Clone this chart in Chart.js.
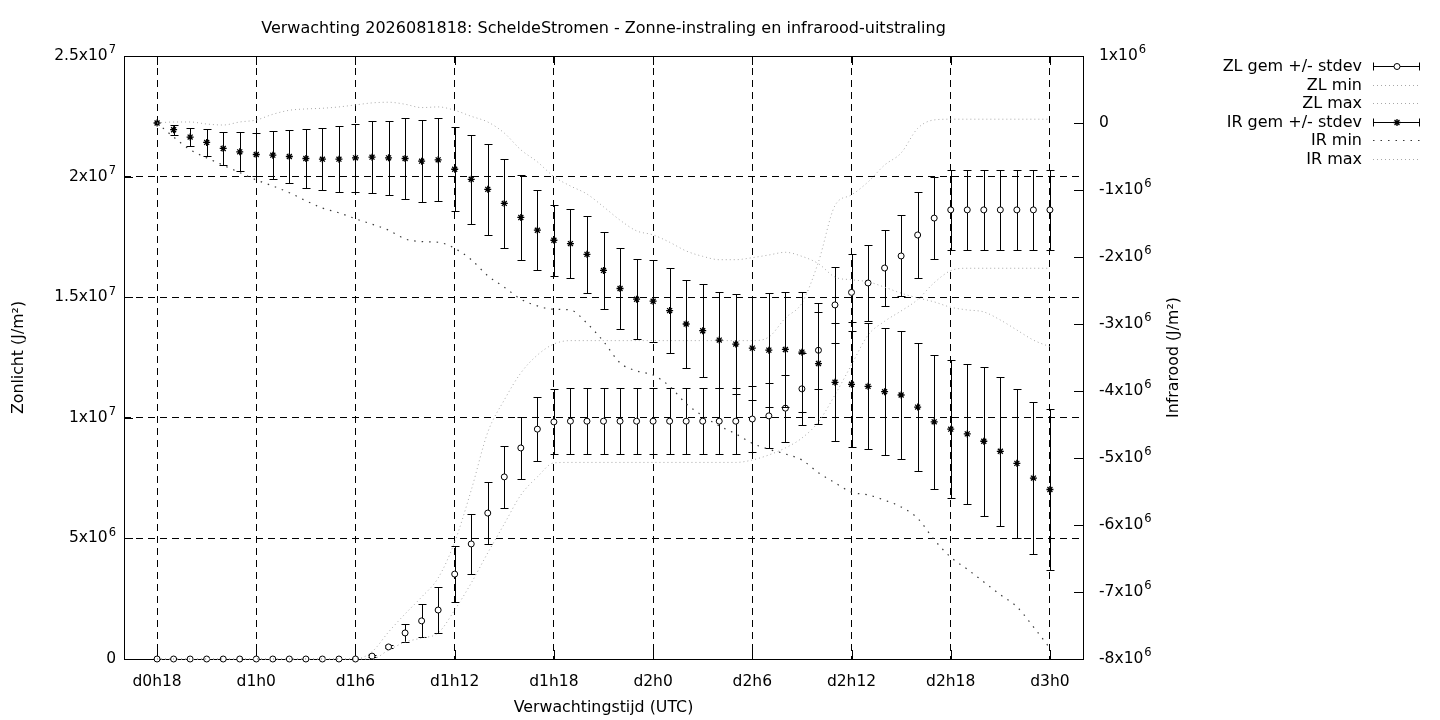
<!DOCTYPE html>
<html>
<head>
<meta charset="utf-8">
<title>Verwachting ScheldeStromen</title>
<script src="https://cdn.jsdelivr.net/npm/chart.js@4.4.1/dist/chart.umd.min.js"></script>
<style>
  html, body { margin: 0; padding: 0; background: #fff; }
  canvas { display: block; }
</style>
</head>
<body>
<canvas id="grafiek" width="1440" height="720"></canvas>
<script>
// uren na d0h18
const uren = [0, 1, 2, 3, 4, 5, 6, 7, 8, 9,
  10, 11, 12, 13, 14, 15, 16, 17, 18, 19,
  20, 21, 22, 23, 24, 25, 26, 27, 28, 29,
  30, 31, 32, 33, 34, 35, 36, 37, 38, 39,
  40, 41, 42, 43, 44, 45, 46, 47, 48, 49,
  50, 51, 52, 53, 54];

const tijdTicks = [0, 6, 12, 18, 24, 30, 36, 42, 48, 54];
const tijdLabels = ["d0h18", "d1h0", "d1h6", "d1h12", "d1h18", "d2h0", "d2h6", "d2h12", "d2h18", "d3h0"];

// "^" markeert de exponent (superscript)
const zlTicks = [0, 5e6, 1e7, 1.5e7, 2e7, 2.5e7];
const zlTickLabels = ["0", "5x10^6", "1x10^7", "1.5x10^7", "2x10^7", "2.5x10^7"];
const irTicks = [-8e6, -7e6, -6e6, -5e6, -4e6, -3e6, -2e6, -1e6, 0, 1e6];
const irTickLabels = ["-8x10^6", "-7x10^6", "-6x10^6", "-5x10^6", "-4x10^6", "-3x10^6", "-2x10^6", "-1x10^6", "0", "1x10^6"];

// zonlicht (J/m2)
const zlGem = [0, 0, 0, 0, 0, 0, 0, 0, 0, 0,
  0, 0, 0, 1.2e5, 5.0e5, 1.08e6, 1.58e6, 2.03e6, 3.52e6, 4.77e6,
  6.05e6, 7.55e6, 8.75e6, 9.53e6, 9.83e6, 9.86e6, 9.86e6, 9.86e6, 9.86e6, 9.86e6,
  9.86e6, 9.86e6, 9.86e6, 9.86e6, 9.86e6, 9.86e6, 9.95e6, 1.008e7, 1.04e7, 1.12e7,
  1.28e7, 1.468e7, 1.52e7, 1.559e7, 1.621e7, 1.671e7, 1.758e7, 1.828e7, 1.862e7, 1.862e7,
  1.862e7, 1.862e7, 1.862e7, 1.862e7, 1.862e7];
const zlStdev = [0, 0, 0, 0, 0, 0, 0, 0, 0, 0,
  0, 0, 0, 0.03e6, 0.06e6, 0.37e6, 0.68e6, 0.95e6, 1.16e6, 1.24e6,
  1.3e6, 1.27e6, 1.27e6, 1.33e6, 1.35e6, 1.37e6, 1.37e6, 1.37e6, 1.37e6, 1.37e6,
  1.37e6, 1.37e6, 1.37e6, 1.37e6, 1.37e6, 1.37e6, 1.35e6, 1.35e6, 1.39e6, 1.5e6,
  1.6e6, 1.58e6, 1.6e6, 1.58e6, 1.58e6, 1.68e6, 1.78e6, 1.7e6, 1.66e6, 1.66e6,
  1.66e6, 1.66e6, 1.66e6, 1.66e6, 1.66e6];
const zlMin = [0, 0, 0, 0, 0, 0, 0, 0, 0, 0,
  0, 0, 0, 0, 0.37e6, 0.7e6, 0.87e6, 1.08e6, 2.03e6, 3.15e6,
  4.4e6, 5.6e6, 6.8e6, 7.55e6, 8.13e6, 8.15e6, 8.15e6, 8.15e6, 8.15e6, 8.15e6,
  8.15e6, 8.15e6, 8.15e6, 8.15e6, 8.15e6, 8.15e6, 8.25e6, 8.46e6, 8.75e6, 9.16e6,
  9.83e6, 1.095e7, 1.22e7, 1.343e7, 1.4e7, 1.443e7, 1.49e7, 1.56e7, 1.61e7, 1.62e7,
  1.62e7, 1.62e7, 1.62e7, 1.62e7, 1.62e7];
const zlMax = [0, 0, 0, 0, 0, 0, 0, 0, 0, 0,
  0, 0, 0, 0.3e6, 1.12e6, 1.87e6, 2.57e6, 3.36e6, 4.85e6, 7.0e6,
  9.4e6, 1.074e7, 1.186e7, 1.26e7, 1.306e7, 1.32e7, 1.32e7, 1.32e7, 1.32e7, 1.32e7,
  1.32e7, 1.32e7, 1.32e7, 1.32e7, 1.32e7, 1.32e7, 1.32e7, 1.335e7, 1.414e7, 1.476e7,
  1.646e7, 1.88e7, 1.924e7, 1.978e7, 2.048e7, 2.098e7, 2.2e7, 2.235e7, 2.238e7, 2.238e7,
  2.238e7, 2.238e7, 2.238e7, 2.238e7, 2.238e7];

// infrarood (J/m2)
const irGem = [0, -0.1e6, -0.21e6, -0.29e6, -0.38e6, -0.43e6, -0.47e6, -0.48e6, -0.5e6, -0.53e6,
  -0.54e6, -0.54e6, -0.52e6, -0.51e6, -0.52e6, -0.53e6, -0.57e6, -0.55e6, -0.69e6, -0.84e6,
  -0.99e6, -1.2e6, -1.41e6, -1.6e6, -1.75e6, -1.8e6, -1.96e6, -2.2e6, -2.47e6, -2.63e6,
  -2.66e6, -2.8e6, -3.0e6, -3.1e6, -3.24e6, -3.3e6, -3.36e6, -3.39e6, -3.38e6, -3.42e6,
  -3.59e6, -3.87e6, -3.9e6, -3.93e6, -4.01e6, -4.06e6, -4.24e6, -4.46e6, -4.57e6, -4.64e6,
  -4.75e6, -4.9e6, -5.08e6, -5.3e6, -5.47e6];
const irStdev = [0, 0.075e6, 0.14e6, 0.2e6, 0.25e6, 0.29e6, 0.32e6, 0.36e6, 0.4e6, 0.44e6,
  0.46e6, 0.49e6, 0.51e6, 0.54e6, 0.55e6, 0.6e6, 0.61e6, 0.62e6, 0.63e6, 0.66e6,
  0.68e6, 0.67e6, 0.64e6, 0.6e6, 0.53e6, 0.52e6, 0.57e6, 0.58e6, 0.61e6, 0.6e6,
  0.61e6, 0.64e6, 0.65e6, 0.69e6, 0.72e6, 0.75e6, 0.77e6, 0.85e6, 0.86e6, 0.9e6,
  0.9e6, 0.88e6, 0.93e6, 0.94e6, 0.95e6, 0.95e6, 0.96e6, 1.0e6, 1.03e6, 1.04e6,
  1.11e6, 1.11e6, 1.11e6, 1.14e6, 1.2e6];
const irMin = [0, -0.21e6, -0.4e6, -0.52e6, -0.63e6, -0.74e6, -0.85e6, -0.94e6, -1.04e6, -1.16e6,
  -1.27e6, -1.34e6, -1.43e6, -1.51e6, -1.6e6, -1.73e6, -1.77e6, -1.78e6, -1.87e6, -2.04e6,
  -2.28e6, -2.45e6, -2.63e6, -2.73e6, -2.78e6, -2.79e6, -2.99e6, -3.26e6, -3.58e6, -3.7e6,
  -3.76e6, -3.93e6, -4.19e6, -4.37e6, -4.52e6, -4.64e6, -4.78e6, -4.87e6, -4.94e6, -5.03e6,
  -5.22e6, -5.37e6, -5.51e6, -5.55e6, -5.63e6, -5.73e6, -5.9e6, -6.22e6, -6.48e6, -6.66e6,
  -6.85e6, -7.04e6, -7.22e6, -7.52e6, -7.84e6];
const irMax = [0, 0.015e6, 0.015e6, -0.015e6, -0.03e6, 0.015e6, 0.045e6, 0.13e6, 0.19e6, 0.21e6,
  0.22e6, 0.24e6, 0.27e6, 0.30e6, 0.31e6, 0.28e6, 0.23e6, 0.24e6, 0.19e6, 0.1e6,
  0.015e6, -0.15e6, -0.4e6, -0.58e6, -0.8e6, -0.94e6, -1.06e6, -1.25e6, -1.45e6, -1.61e6,
  -1.67e6, -1.78e6, -1.91e6, -1.99e6, -2.04e6, -2.04e6, -2.01e6, -1.97e6, -1.93e6, -1.99e6,
  -2.1e6, -2.3e6, -2.34e6, -2.37e6, -2.45e6, -2.54e6, -2.61e6, -2.67e6, -2.75e6, -2.79e6,
  -2.82e6, -2.94e6, -3.09e6, -3.24e6, -3.34e6];

const punten = (reeks) => uren.map((u, i) => ({ x: u, y: reeks[i] }));

const tickFont = { family: "DejaVu Sans", size: 15.5 };
const titelFont = { family: "DejaVu Sans", size: 15.8 };
Chart.defaults.font.family = "DejaVu Sans";
Chart.defaults.font.size = 15.5;
Chart.defaults.color = "#000";

const grijsStip = "#a8a8a8";

// tekent de foutbalken (gem +/- stdev) voor de dataset zelf getekend wordt
const foutbalken = {
  id: "foutbalken",
  beforeDatasetDraw(chart, args) {
    const ds = chart.data.datasets[args.index];
    if (!ds.stdev) return;
    const ctx = chart.ctx;
    const xs = chart.scales.x;
    const ys = chart.scales[ds.yAxisID];
    ctx.save();
    ctx.strokeStyle = "#000";
    ctx.lineWidth = 1;
    ds.data.forEach((p, i) => {
      const s = ds.stdev[i];
      if (!s) return;
      const x = Math.round(xs.getPixelForValue(p.x)) + 0.5;
      const y1 = Math.round(ys.getPixelForValue(p.y - s)) + 0.5;
      const y2 = Math.round(ys.getPixelForValue(p.y + s)) + 0.5;
      ctx.beginPath();
      ctx.moveTo(x, y1);
      ctx.lineTo(x, y2);
      ctx.moveTo(x - 4, y1);
      ctx.lineTo(x + 4, y1);
      ctx.moveTo(x - 4, y2);
      ctx.lineTo(x + 4, y2);
      ctx.stroke();
    });
    ctx.restore();
  },
};

function tekenSter(ctx, x, y, r) {
  const d = r * 0.7071;
  ctx.beginPath();
  ctx.moveTo(x - r, y); ctx.lineTo(x + r, y);
  ctx.moveTo(x, y - r); ctx.lineTo(x, y + r);
  ctx.moveTo(x - d, y - d); ctx.lineTo(x + d, y + d);
  ctx.moveTo(x - d, y + d); ctx.lineTo(x + d, y - d);
  ctx.stroke();
}

// label als "1x10^6": basis plus verhoogde exponent
function tekenMacht(ctx, tekst, x, y, uitlijning) {
  const [basis, macht] = tekst.split("^");
  ctx.font = "15.5px 'DejaVu Sans'";
  const wb = ctx.measureText(basis).width;
  ctx.font = "11.5px 'DejaVu Sans'";
  const wm = macht ? ctx.measureText(macht).width + 1 : 0;
  const start = uitlijning === "right" ? x - wb - wm : x;
  ctx.textAlign = "left";
  ctx.textBaseline = "middle";
  ctx.font = "15.5px 'DejaVu Sans'";
  ctx.fillText(basis, start, y);
  if (macht) {
    ctx.font = "11.5px 'DejaVu Sans'";
    ctx.fillText(macht, start + wb + 1, y - 5.5);
  }
}

// rand, tickjes naar binnen, y-labels, rechter as-titel en legenda (gnuplot stijl)
const kader = {
  id: "kader",
  beforeDatasetsDraw(chart) {
    const ctx = chart.ctx;
    const a = chart.chartArea;
    const { x, y, y2 } = chart.scales;
    ctx.save();
    ctx.strokeStyle = "#000";
    ctx.lineWidth = 1;
    ctx.setLineDash([]);
    ctx.strokeRect(Math.round(a.left) + 0.5, Math.round(a.top) + 0.5,
      Math.round(a.right - a.left), Math.round(a.bottom - a.top));

    ctx.beginPath();
    tijdTicks.forEach((t) => {
      const px = Math.round(x.getPixelForValue(t)) + 0.5;
      ctx.moveTo(px, a.bottom); ctx.lineTo(px, a.bottom - 9);
      ctx.moveTo(px, a.top); ctx.lineTo(px, a.top + 9);
    });
    zlTicks.forEach((t) => {
      const py = Math.round(y.getPixelForValue(t)) + 0.5;
      ctx.moveTo(a.left, py); ctx.lineTo(a.left + 9, py);
    });
    irTicks.forEach((t) => {
      const py = Math.round(y2.getPixelForValue(t)) + 0.5;
      ctx.moveTo(a.right, py); ctx.lineTo(a.right - 9, py);
    });
    ctx.stroke();
    ctx.restore();
  },
  afterDraw(chart) {
    const ctx = chart.ctx;
    const a = chart.chartArea;
    const { y, y2 } = chart.scales;
    ctx.save();
    ctx.fillStyle = "#000";

    zlTicks.forEach((t, i) => {
      tekenMacht(ctx, zlTickLabels[i], a.left - 8, y.getPixelForValue(t), "right");
    });
    irTicks.forEach((t, i) => {
      tekenMacht(ctx, irTickLabels[i], a.right + 16, y2.getPixelForValue(t), "left");
    });

    // titel rechter as, van onder naar boven
    ctx.font = "15.8px 'DejaVu Sans'";
    ctx.save();
    ctx.translate(1174, (a.top + a.bottom) / 2);
    ctx.rotate(-Math.PI / 2);
    ctx.textAlign = "center";
    ctx.textBaseline = "middle";
    ctx.fillText("Infrarood (J/m²)", 0, 0);
    ctx.restore();

    // legenda
    ctx.font = "16px 'DejaVu Sans'";
    ctx.textAlign = "right";
    ctx.textBaseline = "middle";
    chart.data.datasets.forEach((ds, k) => {
      const ry = Math.round(66 + k * 18.6) + 0.5;
      ctx.fillStyle = "#000";
      ctx.fillText(ds.label, 1362, ry);
      const x0 = 1373, x1 = 1420, xm = 1397;
      if (ds.stdev) {
        ctx.strokeStyle = "#000";
        ctx.lineWidth = 1;
        ctx.setLineDash([]);
        ctx.beginPath();
        ctx.moveTo(x0, ry); ctx.lineTo(x1, ry);
        ctx.moveTo(x0 + 0.5, ry - 4); ctx.lineTo(x0 + 0.5, ry + 4);
        ctx.moveTo(x1 - 0.5, ry - 4); ctx.lineTo(x1 - 0.5, ry + 4);
        ctx.stroke();
        if (ds.pointStyle === "circle") {
          ctx.beginPath();
          ctx.arc(xm, ry, ds.pointRadius, 0, Math.PI * 2);
          ctx.fillStyle = "#fff";
          ctx.fill();
          ctx.stroke();
        } else {
          ctx.lineWidth = ds.pointBorderWidth;
          tekenSter(ctx, xm, ry, ds.pointRadius);
        }
      } else {
        ctx.strokeStyle = ds.borderColor;
        ctx.lineWidth = ds.borderWidth;
        ctx.setLineDash(ds.borderDash);
        ctx.beginPath();
        ctx.moveTo(x0, ry); ctx.lineTo(x1, ry);
        ctx.stroke();
      }
    });
    ctx.restore();
  },
};

const vasteTicks = (waarden) => (schaal) => {
  schaal.ticks = waarden.map((v) => ({ value: v }));
};

new Chart(document.getElementById("grafiek"), {
  type: "line",
  data: {
    datasets: [
      {
        label: "ZL gem +/- stdev",
        data: punten(zlGem),
        stdev: zlStdev,
        yAxisID: "y",
        showLine: false,
        clip: false,
        pointStyle: "circle",
        pointRadius: 3,
        pointBorderWidth: 1,
        pointBackgroundColor: "#fff",
        pointBorderColor: "#000",
        order: 6,
      },
      {
        label: "ZL min",
        data: punten(zlMin),
        yAxisID: "y",
        clip: 2,
        borderColor: grijsStip,
        borderWidth: 1,
        borderDash: [1, 3],
        pointRadius: 0,
        cubicInterpolationMode: "monotone",
        order: 5,
      },
      {
        label: "ZL max",
        data: punten(zlMax),
        yAxisID: "y",
        clip: 2,
        borderColor: grijsStip,
        borderWidth: 1,
        borderDash: [1, 3],
        pointRadius: 0,
        cubicInterpolationMode: "monotone",
        order: 4,
      },
      {
        label: "IR gem +/- stdev",
        data: punten(irGem),
        stdev: irStdev,
        yAxisID: "y2",
        showLine: false,
        clip: false,
        pointStyle: "star",
        pointRadius: 3.5,
        pointBorderWidth: 1.3,
        pointBorderColor: "#000",
        pointBackgroundColor: "#000",
        order: 3,
      },
      {
        label: "IR min",
        data: punten(irMin),
        yAxisID: "y2",
        borderColor: "#3a3a3a",
        borderWidth: 1.2,
        borderDash: [1.5, 6],
        pointRadius: 0,
        cubicInterpolationMode: "monotone",
        order: 2,
      },
      {
        label: "IR max",
        data: punten(irMax),
        yAxisID: "y2",
        borderColor: grijsStip,
        borderWidth: 1,
        borderDash: [1, 3],
        pointRadius: 0,
        cubicInterpolationMode: "monotone",
        order: 1,
      },
    ],
  },
  options: {
    responsive: false,
    animation: false,
    devicePixelRatio: 1,
    layout: { padding: { left: 0, right: 257, top: 0, bottom: 0 } },
    plugins: {
      legend: { display: false },
      tooltip: { enabled: false },
      title: {
        display: true,
        fullSize: false,
        text: "Verwachting 2026081818: ScheldeStromen - Zonne-instraling en infrarood-uitstraling",
        font: { family: "DejaVu Sans", size: 16, weight: "normal" },
        color: "#000",
        padding: { top: 19, bottom: 17.8 },
      },
    },
    scales: {
      x: {
        type: "linear",
        min: -2,
        max: 56,
        afterBuildTicks: vasteTicks(tijdTicks),
        afterFit: (s) => { s.height = 61; },
        ticks: {
          callback: (v, i) => tijdLabels[i],
          autoSkip: false,
          maxRotation: 0,
          padding: 14,
          font: tickFont,
          color: "#000",
        },
        grid: { color: "#000", lineWidth: 1, drawTicks: false },
        border: { display: false, dash: [7, 5] },
        title: {
          display: true,
          text: "Verwachtingstijd (UTC)",
          font: titelFont,
          color: "#000",
          padding: { top: 0, bottom: 3 },
        },
      },
      y: {
        position: "left",
        min: 0,
        max: 2.5e7,
        afterBuildTicks: vasteTicks(zlTicks),
        afterFit: (s) => { s.width = 124; },
        ticks: { display: false },
        grid: { color: "#000", lineWidth: 1, drawTicks: false },
        border: { display: false, dash: [7, 5] },
        title: {
          display: true,
          text: "Zonlicht (J/m²)",
          font: titelFont,
          color: "#000",
          padding: { top: 9, bottom: 0 },
        },
      },
      y2: {
        position: "right",
        min: -8e6,
        max: 1e6,
        afterBuildTicks: vasteTicks(irTicks),
        afterFit: (s) => { s.width = 100; },
        ticks: { display: false },
        grid: { display: false, drawTicks: false },
        border: { display: false },
      },
    },
  },
  plugins: [foutbalken, kader],
});
</script>
</body>
</html>
